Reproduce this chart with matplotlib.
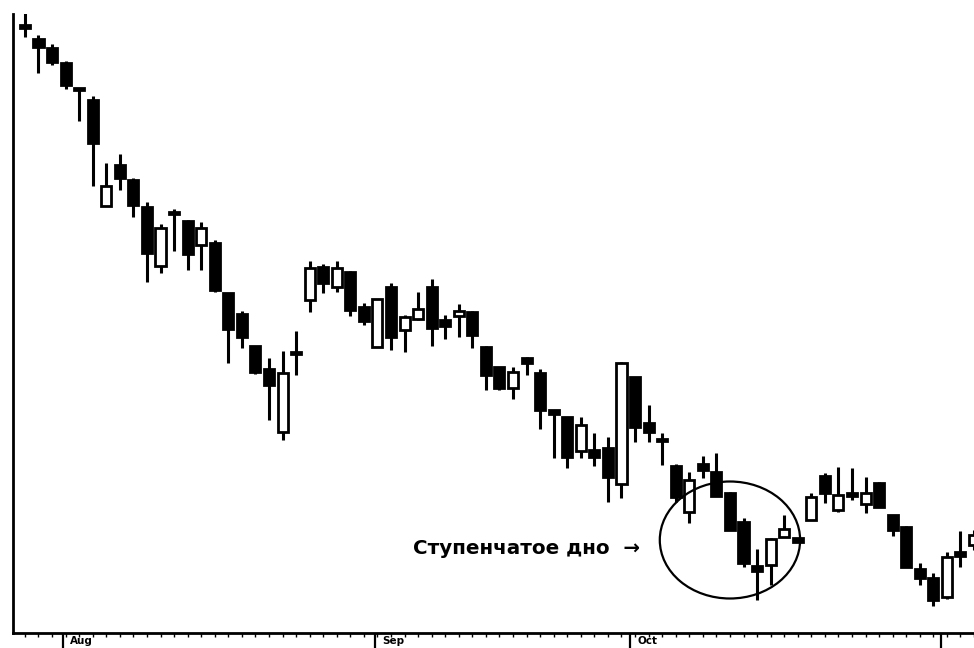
import numpy as np
import matplotlib.pyplot as plt
from matplotlib.patches import Ellipse
from matplotlib.transforms import blended_transform_factory

# daily prices, one candle per trading day
opens = [62.5, 61.1, 60.2, 58.7, 56.2, 55.0, 44.4, 48.5, 47.0, 44.3,
         38.4, 43.8, 42.9, 40.5, 40.7, 35.7, 33.6, 30.4, 28.1, 21.8,
         29.8, 35.0, 38.3, 36.3, 37.8, 34.3, 30.3, 36.3, 32.0, 33.1,
         36.3, 33.0, 33.4, 33.8, 30.3, 28.3, 26.2, 29.2, 27.7, 24.0,
         23.3, 19.9, 20.0, 20.2, 16.6, 27.3, 22.7, 21.1, 18.4, 13.8,
         18.6, 17.8, 15.7, 12.8, 8.4, 8.5, 11.3, 11.2, 13.0, 17.4,
         14.0, 15.7, 14.6, 16.7, 13.5, 12.3, 8.1, 7.2, 5.3, 9.8, 10.5]
highs = [63.7, 61.5, 60.6, 58.9, 56.2, 55.4, 48.7, 49.6, 47.2, 44.8,
         42.6, 44.1, 43.0, 42.8, 41.0, 35.7, 33.9, 30.4, 29.2, 29.9,
         31.9, 38.9, 38.6, 38.9, 37.9, 34.7, 35.1, 36.7, 33.5, 35.8,
         37.1, 33.5, 34.6, 33.9, 30.4, 28.3, 28.3, 29.3, 28.1, 24.0,
         23.3, 23.3, 21.7, 21.3, 28.8, 27.3, 24.5, 21.7, 18.6, 17.8,
         19.4, 19.7, 15.8, 13.2, 10.1, 11.2, 13.5, 11.2, 15.7, 17.7,
         18.3, 18.2, 17.3, 16.8, 13.5, 12.4, 8.7, 7.7, 9.8, 11.9, 12.0]
lows = [61.3, 57.7, 58.5, 56.1, 52.9, 46.4, 44.4, 46.0, 43.3, 36.8,
        37.7, 39.9, 38.0, 38.0, 35.8, 28.7, 30.2, 27.6, 23.0, 21.0,
        27.5, 33.8, 35.7, 35.8, 33.4, 32.5, 30.3, 30.0, 29.8, 33.0,
        30.4, 31.1, 31.3, 30.2, 26.0, 26.0, 25.1, 27.5, 22.1, 19.2,
        18.2, 19.2, 18.4, 14.8, 15.2, 20.8, 20.8, 18.5, 14.8, 12.7,
        17.2, 15.4, 12.0, 8.3, 5.0, 6.5, 11.3, 10.8, 13.0, 14.7,
        13.8, 15.0, 13.7, 14.3, 11.4, 8.3, 6.5, 4.4, 5.1, 8.3, 10.0]
closes = [62.2, 60.3, 58.8, 56.5, 56.0, 50.7, 46.4, 47.2, 44.5, 39.7,
          42.2, 43.6, 39.6, 42.2, 36.0, 32.1, 31.3, 27.8, 26.5, 27.7,
          29.6, 38.2, 36.7, 38.2, 34.0, 32.9, 35.1, 31.3, 33.3, 34.1,
          32.2, 32.4, 33.9, 31.5, 27.5, 26.2, 27.8, 28.7, 24.0, 23.6,
          19.3, 22.5, 19.3, 17.3, 28.7, 22.3, 21.8, 20.9, 15.3, 17.0,
          18.0, 15.4, 12.0, 8.7, 7.9, 11.1, 12.1, 10.8, 15.3, 15.7,
          15.5, 15.4, 15.7, 14.3, 12.0, 8.3, 7.2, 5.0, 9.3, 9.4, 11.5]

# month boundaries on the day axis
month_pos = [2.8, 25.8, 44.6, 67.6]
month_names = ['Aug', 'Sep', 'Oct', '']

label_text = 'Ступенчатое дно  →'

days = np.arange(len(opens))
o = np.array(opens)
c = np.array(closes)

fig = plt.figure(figsize=(9.74, 6.48), dpi=100)
ax = fig.add_axes([13 / 974, 15 / 648, 1 - 13 / 974, 619 / 648])

# wicks first, bodies on top
ax.vlines(days, lows, highs, color='black', linewidth=2.2, zorder=2)
body_colors = np.where(c >= o, 'white', 'black')
heights = np.maximum(np.abs(c - o), 0.15)
ax.bar(days, heights, bottom=np.minimum(o, c), width=0.74,
       color=body_colors, edgecolor='black', linewidth=2.0, zorder=3)

# the rounded bottom in October
ax.add_patch(Ellipse((52.0, 11.0), width=10.35, height=11.7, fill=False,
                     edgecolor='black', linewidth=1.6, zorder=4))
ax.text(28.6, 10.2, label_text, fontsize=14.3, va='center', ha='left',
        fontweight='bold', family='DejaVu Sans')

ax.set_xlim(-0.88, 69.68)
ax.set_ylim(1.7, 63.6)

for side in ['top', 'right']:
    ax.spines[side].set_visible(False)
ax.spines['left'].set_linewidth(2)
ax.spines['bottom'].set_linewidth(2)

ax.set_yticks([])
ax.set_xticks(month_pos)
ax.set_xticklabels([])
ax.set_xticks(days, minor=True)
ax.tick_params(axis='x', which='major', direction='out', length=11, width=1.6)
ax.tick_params(axis='x', which='minor', direction='out', length=3, width=1.0)

trans = blended_transform_factory(ax.transData, ax.transAxes)
for pos, name in zip(month_pos, month_names):
    ax.text(pos + 0.55, -0.005, name, transform=trans, fontsize=7.5,
            fontweight='bold', va='top', ha='left')

fig.savefig('out.png', dpi=100)
